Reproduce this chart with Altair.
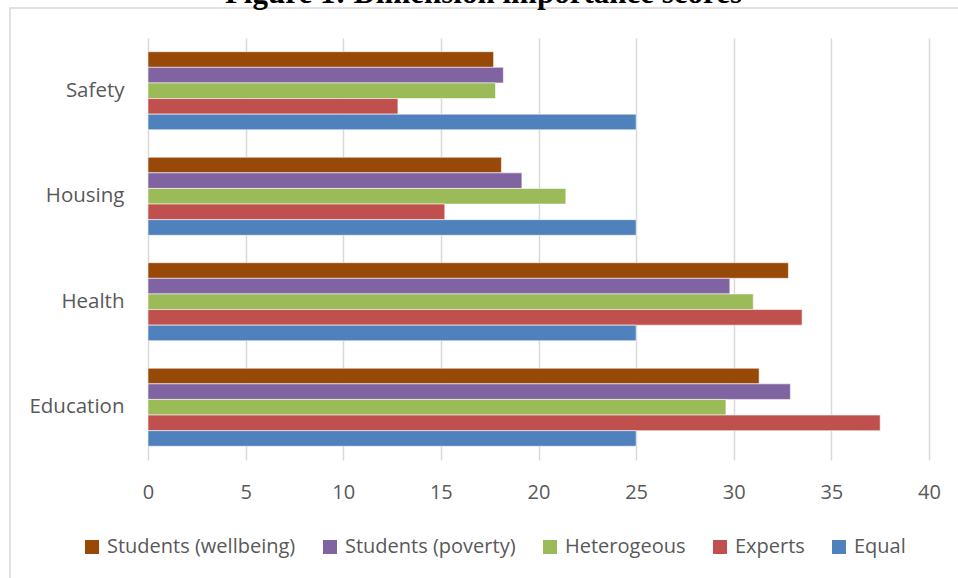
import altair as alt
import pandas as pd

# Dimension importance scores by weighting scheme
categories = ["Safety", "Housing", "Health", "Education"]
series = ["Students (wellbeing)", "Students (poverty)", "Heterogeous", "Experts", "Equal"]
colors = ["#984807", "#8064A2", "#9BBB59", "#C0504D", "#4F81BD"]

students_wellbeing = [17.7, 18.1, 32.8, 31.3]
students_poverty = [18.2, 19.15, 29.8, 32.9]
heterogeous = [17.8, 21.4, 31.0, 29.6]
experts = [12.8, 15.2, 33.5, 37.5]
equal = [25.0, 25.0, 25.0, 25.0]

values_by_series = [students_wellbeing, students_poverty, heterogeous, experts, equal]

rows = []
for name, vals in zip(series, values_by_series):
    for cat, v in zip(categories, vals):
        rows.append({"category": cat, "series": name, "score": v})
df = pd.DataFrame(rows)

label_font = "Open Sans"
label_color = "#595959"
grid_color = "#D9D9D9"

bars = alt.Chart(df).mark_bar(
    stroke="white", strokeWidth=0.8, strokeOpacity=0.7
).encode(
    x=alt.X(
        "score:Q",
        scale=alt.Scale(domain=[0, 40], nice=False),
        axis=alt.Axis(
            values=list(range(0, 41, 5)),
            title=None,
            grid=True,
            gridColor=grid_color,
            gridWidth=1.5,
            domain=False,
            ticks=False,
            labelFlush=False,
            labelFont=label_font,
            labelFontSize=20,
            labelColor=label_color,
            labelPadding=22,
        ),
    ),
    y=alt.Y(
        "category:N",
        sort=categories,
        scale=alt.Scale(paddingInner=0.26, paddingOuter=0.13),
        axis=alt.Axis(
            title=None,
            domain=False,
            ticks=False,
            labelFont=label_font,
            labelFontSize=20.5,
            labelColor=label_color,
            labelPadding=24,
        ),
    ),
    yOffset=alt.YOffset("series:N", sort=series, scale=alt.Scale(paddingInner=0, paddingOuter=0)),
    color=alt.Color(
        "series:N",
        scale=alt.Scale(domain=series, range=colors),
        legend=alt.Legend(
            title=None,
            orient="none",
            direction="horizontal",
            columns=5,
            legendX=-66,
            legendY=499,
            symbolType="square",
            symbolSize=196,
            symbolStrokeWidth=0,
            symbolOpacity=1,
            labelFont=label_font,
            labelFontSize=20,
            labelColor=label_color,
            labelLimit=0,
            labelOffset=5,
            columnPadding=24,
        ),
    ),
)

# outer chart frame
frame = alt.Chart(alt.Data(values=[{}])).mark_rect(
    filled=False, stroke=grid_color, strokeWidth=1.5
).encode(
    x=alt.value(-138), x2=alt.value(840), y=alt.value(-30), y2=alt.value(560)
)

chart = alt.layer(frame, bars).properties(
    width=781,
    height=422,
    padding={"left": 148, "top": 38, "right": 29, "bottom": 118},
    autosize=alt.AutoSizeParams(type="none"),
    title=alt.TitleParams(
        "Figure 1: Dimension importance scores",
        font="Liberation Serif",
        fontSize=31,
        fontWeight="bold",
        color="black",
        anchor="middle",
        frame="group",
        dx=-55,
        offset=0,
        dy=3,
    ),
).configure_view(strokeWidth=0)

chart.save("out.html", embed_options={"renderer": "svg", "actions": False})
